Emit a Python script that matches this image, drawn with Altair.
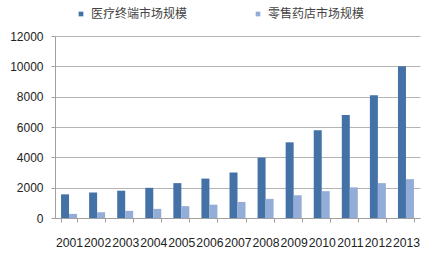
import altair as alt
import pandas as pd

years = ["2001","2002","2003","2004","2005","2006","2007","2008","2009","2010","2011","2012","2013"]
medical = [1560, 1680, 1800, 1990, 2300, 2600, 3000, 3980, 4990, 5780, 6790, 8100, 10000]
retail = [270, 380, 470, 600, 780, 880, 1060, 1260, 1500, 1770, 2020, 2300, 2560]
series = ["医疗终端市场规模", "零售药店市场规模"]
colors = ["#4472A6", "#94ACD8"]

rows = []
for y, m, r in zip(years, medical, retail):
    rows.append({"year": y, "series": series[0], "value": m})
    rows.append({"year": y, "series": series[1], "value": r})
df = pd.DataFrame(rows)

chart = alt.Chart(df).mark_bar().encode(
    x=alt.X("year:N", title=None, sort=years,
            scale=alt.Scale(paddingInner=0.43, paddingOuter=0.215),
            axis=alt.Axis(labelAngle=0, tickBand="extent", tickSize=4, labelPadding=14,
                          domainColor="#A0A0A0", tickColor="#A0A0A0", grid=False,
                          labelFont="Liberation Sans", labelFontSize=12.2, labelColor="#222222")),
    xOffset=alt.XOffset("series:N", sort=series),
    y=alt.Y("value:Q", title=None,
            scale=alt.Scale(domain=[0, 12000]),
            axis=alt.Axis(values=[0, 2000, 4000, 6000, 8000, 10000, 12000], format="d",
                          tickSize=4, labelPadding=8,
                          domainColor="#A0A0A0", tickColor="#A0A0A0", gridColor="#B4B4B4",
                          labelFont="Liberation Sans", labelFontSize=12, labelColor="#222222")),
    color=alt.Color("series:N", sort=series,
                    scale=alt.Scale(domain=series, range=colors),
                    legend=alt.Legend(title=None, orient="none", direction="horizontal",
                                      legendX=20, legendY=-28, symbolType="square", symbolSize=22,
                                      symbolStrokeWidth=0, columnPadding=64, labelOffset=4,
                                      labelFont="Noto Sans CJK SC", labelFontSize=12,
                                      labelColor="#444444")),
).properties(
    width=365, height=182,
    padding={"left": 55, "top": 36, "right": 17, "bottom": 36},
    autosize=alt.AutoSizeParams(type="none"),
).configure_view(stroke=None)

chart.save("out.html", embed_options={"renderer": "svg", "actions": False})
